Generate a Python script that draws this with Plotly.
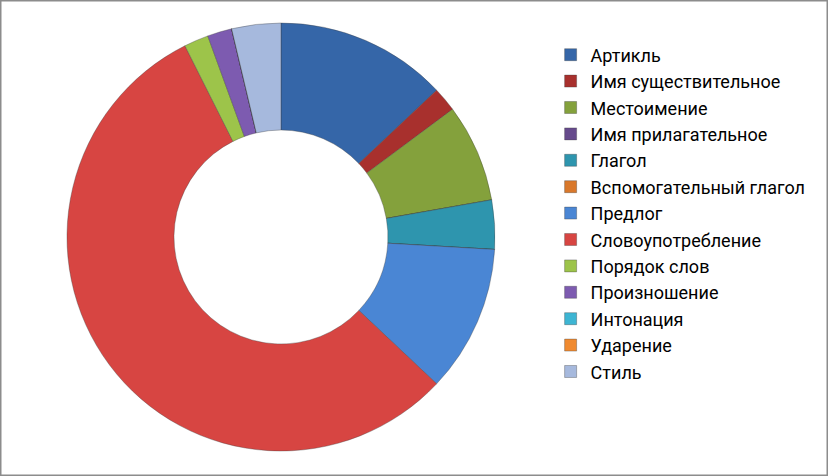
import plotly.graph_objects as go

labels = ["Артикль", "Имя существительное", "Местоимение", "Имя прилагательное",
          "Глагол", "Вспомогательный глагол", "Предлог", "Словоупотребление",
          "Порядок слов", "Произношение", "Интонация", "Ударение", "Стиль"]
values = [7, 1, 4, 0, 2, 0, 6, 30, 1, 1, 0, 0, 2]
colors = ["#3566A8", "#A8302D", "#84A13C", "#664A8C", "#2E95AE", "#D9782B",
          "#4A86D4", "#D74542", "#9DC44A", "#7D5BB0", "#3DB5D3", "#F08A30", "#A6B9DD"]

fig = go.Figure(go.Pie(
    labels=labels, values=values, hole=0.5, sort=False, direction="clockwise",
    rotation=0, textinfo="none", hoverinfo="label+value+percent",
    marker=dict(colors=colors, line=dict(color="rgba(60,60,60,0.35)", width=1)),
    domain=dict(x=[0.0809, 0.5978], y=[0.0525, 0.9517]),
))

fig.update_layout(
    width=828, height=476,
    margin=dict(l=0, r=0, t=0, b=0),
    paper_bgcolor="white",
    font=dict(family="Roboto", size=18, color="black"),
    legend=dict(x=0.665, y=0.5515, xanchor="left", yanchor="middle",
                font=dict(size=18), itemwidth=30, tracegroupgap=0),
    shapes=[dict(type="rect", xref="paper", yref="paper", x0=0, y0=0, x1=1, y1=1,
                 line=dict(color="#8C8C8C", width=3))],
)

fig.write_html("out.html", config={"displayModeBar": False},
               post_script="document.body.style.margin='0';")
